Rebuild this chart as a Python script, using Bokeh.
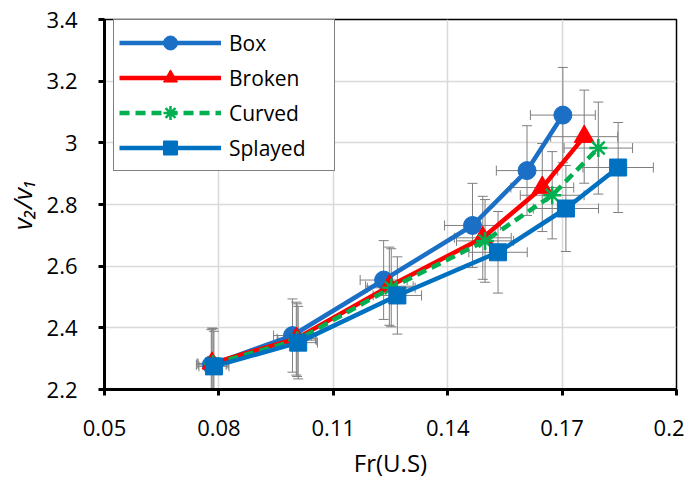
from bokeh.plotting import figure
from bokeh.models import Whisker, TeeHead, ColumnDataSource, FixedTicker, Range1d
from bokeh.embed import file_html
from bokeh.resources import INLINE

# ---- data ----
series_names = ["Box", "Broken", "Curved", "Splayed"]
fr_box = [0.0780, 0.0993, 0.1232, 0.1465, 0.1608, 0.1702]
v_box = [2.280, 2.375, 2.555, 2.732, 2.910, 3.090]
fr_broken = [0.0782, 0.1003, 0.1247, 0.1492, 0.1648, 0.1758]
v_broken = [2.285, 2.365, 2.535, 2.692, 2.855, 3.020]
fr_curved = [0.0785, 0.1005, 0.1252, 0.1498, 0.1674, 0.1795]
v_curved = [2.283, 2.360, 2.530, 2.682, 2.830, 2.983]
fr_splayed = [0.0787, 0.1008, 0.1268, 0.1532, 0.1710, 0.1847]
v_splayed = [2.275, 2.352, 2.505, 2.645, 2.787, 2.920]
err_frac = 0.05
x_ticks = [0.05, 0.08, 0.11, 0.14, 0.17, 0.20]
x_tick_labels = ["0.05", "0.08", "0.11", "0.14", "0.17", "0.2"]
y_ticks = [2.2, 2.4, 2.6, 2.8, 3.0, 3.2, 3.4]
y_tick_labels = ["2.2", "2.4", "2.6", "2.8", "3", "3.2", "3.4"]

FONT = "Open Sans"

p = figure(width=684, height=481, output_backend="svg", toolbar_location=None,
           x_range=Range1d(0.05, 0.2), y_range=Range1d(2.2, 3.4),
           min_border_left=104, min_border_right=8, min_border_top=19, min_border_bottom=90)
p.background_fill_color = "white"
p.border_fill_color = "white"
p.outline_line_color = "black"
p.outline_line_width = 1.5
p.outline_line_alpha = 1.0

for ax in (p.xaxis[0], p.yaxis[0]):
    ax.axis_line_color = "black"
    ax.axis_line_width = 3
    ax.major_tick_line_color = "black"
    ax.major_tick_line_width = 3
    ax.major_tick_out = 6
    ax.major_tick_in = 0
    ax.minor_tick_line_color = None
    ax.major_label_text_font = FONT
    ax.major_label_text_font_size = "22px"
    ax.major_label_text_color = "black"
    ax.axis_label_text_font = FONT
    ax.axis_label_text_font_size = "24px"
    ax.axis_label_text_color = "black"

p.xaxis.ticker = FixedTicker(ticks=x_ticks)
p.xaxis.major_label_overrides = {t: l for t, l in zip(x_ticks, x_tick_labels)}
p.yaxis.ticker = FixedTicker(ticks=y_ticks)
p.yaxis.major_label_overrides = {t: l for t, l in zip(y_ticks, y_tick_labels)}
p.xaxis.axis_label = "Fr(U.S)"
p.yaxis.axis_label = "v\u2082/v\u2081"
p.yaxis.axis_label_text_font_style = "italic"
p.yaxis.axis_label_text_font_size = "26px"
p.xaxis.axis_label_text_font_style = "normal"
p.xaxis.major_label_standoff = 24
p.yaxis.major_label_standoff = 21
p.xaxis.axis_label_standoff = 7
p.yaxis.axis_label_standoff = 4

p.xgrid.grid_line_color = "#d9d9d9"
p.ygrid.grid_line_color = "#d9d9d9"
p.xgrid.grid_line_width = 1.5
p.ygrid.grid_line_width = 1.5

series = [
    ("Box", fr_box, v_box, "#1B6FC4", "circle", 18, None),
    ("Broken", fr_broken, v_broken, "#FF0000", "triangle", 20, None),
    ("Curved", fr_curved, v_curved, "#00B050", "asterisk", 18, "10 6"),
    ("Splayed", fr_splayed, v_splayed, "#0070C0", "square", 17, None),
]

# error bars
for name, fr, v, col, mk, sz, dash in series:
    src = ColumnDataSource(dict(
        x=fr, y=v,
        yu=[a * (1 + err_frac) for a in v], yl=[a * (1 - err_frac) for a in v],
        xu=[a * (1 + err_frac) for a in fr], xl=[a * (1 - err_frac) for a in fr],
    ))
    wv = Whisker(source=src, base="x", upper="yu", lower="yl", dimension="height",
                 line_color="#7f7f7f", line_width=1, level="underlay",
                 upper_head=TeeHead(size=10, line_color="#7f7f7f", line_width=1),
                 lower_head=TeeHead(size=10, line_color="#7f7f7f", line_width=1))
    wh = Whisker(source=src, base="y", upper="xu", lower="xl", dimension="width",
                 line_color="#7f7f7f", line_width=1, level="underlay",
                 upper_head=TeeHead(size=10, line_color="#7f7f7f", line_width=1),
                 lower_head=TeeHead(size=10, line_color="#7f7f7f", line_width=1))
    p.add_layout(wv)
    p.add_layout(wh)

for name, fr, v, col, mk, sz, dash in series:
    kw = {}
    if dash:
        kw["line_dash"] = dash
    p.line(fr, v, line_color=col, line_width=4.5, legend_label=name, **kw)
    if mk == "asterisk":
        p.scatter(fr, v, marker=mk, size=sz, line_color=col, line_width=2.5,
                  legend_label=name)
    else:
        p.scatter(fr, v, marker=mk, size=sz, fill_color=col, line_color=col,
                  legend_label=name)

lg = p.legend[0]
lg.location = (9, 218)
lg.padding = 5
lg.spacing = 0
lg.margin = 0
lg.glyph_width = 102
lg.glyph_height = 35
lg.label_height = 35
lg.label_width = 100
lg.label_standoff = 8
lg.label_text_font = FONT
lg.label_text_font_size = "21px"
lg.label_text_color = "black"
lg.border_line_color = "black"
lg.border_line_width = 1.5
lg.background_fill_color = "white"
lg.background_fill_alpha = 1.0

open("out.html", "w").write(file_html(p, INLINE))
